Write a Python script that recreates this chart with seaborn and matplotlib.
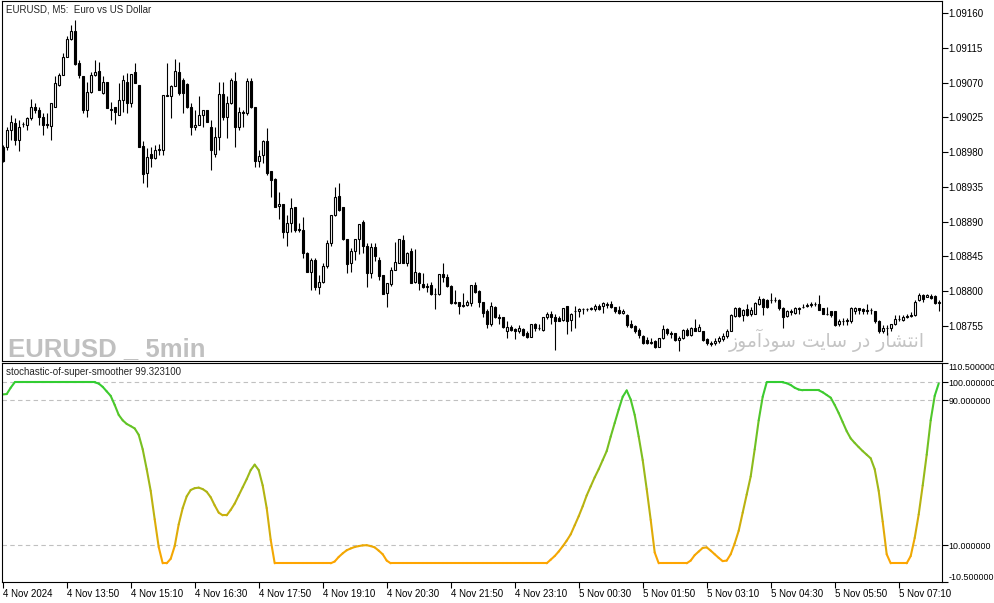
import numpy as np
import pandas as pd
import matplotlib
matplotlib.use('Agg')
import matplotlib.pyplot as plt
from matplotlib.collections import LineCollection
import seaborn as sns

# EURUSD M5 candles, 4 Nov 2024 12:30 -> 5 Nov 2024 08:00
open_ = [
    1.08987, 1.08987, 1.09009, 1.09018, 1.08996, 1.09016, 1.09015, 1.09024, 1.09038, 1.09035,
    1.09025, 1.09016, 1.09014, 1.09038, 1.09067, 1.09080, 1.09103, 1.09126, 1.09137, 1.09095,
    1.09079, 1.09035, 1.09058, 1.09080, 1.09085, 1.09057, 1.09071, 1.09036, 1.09038, 1.09028,
    1.09047, 1.09071, 1.09043, 1.09084, 1.09067, 1.08988, 1.08953, 1.08978, 1.08973, 1.08983,
    1.08983, 1.09053, 1.09052, 1.09066, 1.09084, 1.09073, 1.09068, 1.09039, 1.09012, 1.09015,
    1.09028, 1.09035, 1.09013, 1.08978, 1.09000, 1.09055, 1.09026, 1.09043, 1.09072, 1.09013,
    1.09032, 1.09030, 1.09072, 1.09038, 1.08968, 1.08976, 1.08994, 1.08955, 1.08945, 1.08910,
    1.08913, 1.08876, 1.08888, 1.08909, 1.08879, 1.08879, 1.08850, 1.08825, 1.08840, 1.08805,
    1.08812, 1.08833, 1.08862, 1.08899, 1.08923, 1.08909, 1.08868, 1.08836, 1.08852, 1.08868,
    1.08889, 1.08859, 1.08824, 1.08857, 1.08840, 1.08821, 1.08798, 1.08809, 1.08827, 1.08837,
    1.08866, 1.08836, 1.08852, 1.08812, 1.08824, 1.08809, 1.08806, 1.08808, 1.08796, 1.08796,
    1.08822, 1.08818, 1.08807, 1.08785, 1.08786, 1.08781, 1.08782, 1.08785, 1.08808, 1.08800,
    1.08786, 1.08774, 1.08757, 1.08779, 1.08767, 1.08766, 1.08748, 1.08754, 1.08751, 1.08749,
    1.08751, 1.08746, 1.08741, 1.08758, 1.08752, 1.08750, 1.08766, 1.08771, 1.08767, 1.08765,
    1.08763, 1.08781, 1.08763, 1.08774, 1.08774, 1.08777, 1.08777, 1.08777, 1.08777, 1.08781,
    1.08781, 1.08782, 1.08783, 1.08779, 1.08776, 1.08772, 1.08769, 1.08758, 1.08755, 1.08750,
    1.08742, 1.08737, 1.08733, 1.08735, 1.08728, 1.08739, 1.08751, 1.08746, 1.08746, 1.08737,
    1.08739, 1.08750, 1.08743, 1.08753, 1.08749, 1.08748, 1.08738, 1.08733, 1.08733, 1.08735,
    1.08738, 1.08742, 1.08749, 1.08768, 1.08778, 1.08769, 1.08777, 1.08771, 1.08771, 1.08783,
    1.08790, 1.08789, 1.08788, 1.08788, 1.08789, 1.08778, 1.08768, 1.08774, 1.08772, 1.08778,
    1.08779, 1.08781, 1.08782, 1.08783, 1.08784, 1.08778, 1.08771, 1.08774, 1.08774, 1.08758,
    1.08761, 1.08762, 1.08761, 1.08775, 1.08778, 1.08777, 1.08774, 1.08776, 1.08774, 1.08762,
    1.08748, 1.08752, 1.08752, 1.08758, 1.08764, 1.08763, 1.08767, 1.08768, 1.08769, 1.08789,
    1.08795, 1.08793, 1.08794, 1.08794, 1.08785,
]
high = [
    1.08989, 1.09013, 1.09028, 1.09024, 1.09022, 1.09019, 1.09026, 1.09049, 1.09043, 1.09039,
    1.09030, 1.09030, 1.09043, 1.09079, 1.09082, 1.09108, 1.09130, 1.09144, 1.09151, 1.09099,
    1.09079, 1.09071, 1.09084, 1.09099, 1.09097, 1.09078, 1.09071, 1.09045, 1.09039, 1.09069,
    1.09080, 1.09082, 1.09081, 1.09095, 1.09067, 1.08994, 1.08985, 1.08987, 1.08989, 1.08991,
    1.09054, 1.09095, 1.09067, 1.09100, 1.09097, 1.09076, 1.09069, 1.09043, 1.09035, 1.09052,
    1.09035, 1.09035, 1.09021, 1.09013, 1.09071, 1.09071, 1.09052, 1.09076, 1.09084, 1.09039,
    1.09035, 1.09076, 1.09076, 1.09039, 1.08983, 1.08996, 1.09011, 1.08956, 1.08947, 1.08929,
    1.08913, 1.08899, 1.08921, 1.08909, 1.08888, 1.08896, 1.08851, 1.08843, 1.08843, 1.08821,
    1.08836, 1.08866, 1.08899, 1.08935, 1.08940, 1.08909, 1.08868, 1.08856, 1.08868, 1.08887,
    1.08892, 1.08863, 1.08863, 1.08862, 1.08844, 1.08821, 1.08810, 1.08831, 1.08864, 1.08868,
    1.08873, 1.08851, 1.08856, 1.08855, 1.08825, 1.08823, 1.08810, 1.08812, 1.08804, 1.08822,
    1.08836, 1.08822, 1.08808, 1.08802, 1.08786, 1.08798, 1.08789, 1.08808, 1.08812, 1.08802,
    1.08786, 1.08777, 1.08786, 1.08781, 1.08771, 1.08767, 1.08761, 1.08756, 1.08752, 1.08756,
    1.08752, 1.08748, 1.08758, 1.08759, 1.08758, 1.08767, 1.08773, 1.08774, 1.08771, 1.08768,
    1.08778, 1.08781, 1.08772, 1.08781, 1.08778, 1.08778, 1.08778, 1.08779, 1.08783, 1.08784,
    1.08786, 1.08786, 1.08787, 1.08780, 1.08781, 1.08777, 1.08771, 1.08763, 1.08756, 1.08752,
    1.08743, 1.08741, 1.08740, 1.08737, 1.08740, 1.08756, 1.08752, 1.08748, 1.08746, 1.08742,
    1.08751, 1.08752, 1.08754, 1.08764, 1.08758, 1.08749, 1.08739, 1.08736, 1.08739, 1.08742,
    1.08746, 1.08751, 1.08771, 1.08780, 1.08780, 1.08777, 1.08784, 1.08779, 1.08786, 1.08794,
    1.08791, 1.08790, 1.08798, 1.08793, 1.08790, 1.08779, 1.08776, 1.08777, 1.08780, 1.08779,
    1.08784, 1.08785, 1.08786, 1.08786, 1.08795, 1.08778, 1.08779, 1.08774, 1.08774, 1.08764,
    1.08765, 1.08765, 1.08779, 1.08780, 1.08778, 1.08778, 1.08783, 1.08778, 1.08775, 1.08763,
    1.08756, 1.08756, 1.08758, 1.08769, 1.08769, 1.08769, 1.08771, 1.08773, 1.08788, 1.08798,
    1.08797, 1.08796, 1.08796, 1.08795, 1.08788,
]
low = [
    1.08967, 1.08983, 1.08996, 1.08989, 1.08981, 1.09013, 1.09009, 1.09022, 1.09030, 1.09015,
    1.09002, 1.09011, 1.08996, 1.09038, 1.09066, 1.09080, 1.09103, 1.09125, 1.09093, 1.09076,
    1.09030, 1.09026, 1.09056, 1.09078, 1.09060, 1.09055, 1.09037, 1.09022, 1.09016, 1.09028,
    1.09032, 1.09030, 1.09039, 1.09069, 1.08987, 1.08940, 1.08935, 1.08961, 1.08971, 1.08976,
    1.08976, 1.09052, 1.09024, 1.09065, 1.09054, 1.09030, 1.09037, 1.09002, 1.09009, 1.09015,
    1.09013, 1.09019, 1.08957, 1.08974, 1.08983, 1.09022, 1.08998, 1.09042, 1.08987, 1.09009,
    1.09013, 1.09028, 1.09037, 1.08961, 1.08961, 1.08966, 1.08950, 1.08922, 1.08909, 1.08894,
    1.08869, 1.08859, 1.08877, 1.08877, 1.08877, 1.08843, 1.08825, 1.08802, 1.08802, 1.08797,
    1.08810, 1.08830, 1.08858, 1.08897, 1.08904, 1.08866, 1.08824, 1.08825, 1.08840, 1.08848,
    1.08849, 1.08806, 1.08817, 1.08839, 1.08815, 1.08797, 1.08780, 1.08807, 1.08827, 1.08837,
    1.08836, 1.08832, 1.08811, 1.08810, 1.08802, 1.08804, 1.08799, 1.08795, 1.08777, 1.08795,
    1.08812, 1.08805, 1.08784, 1.08784, 1.08770, 1.08780, 1.08781, 1.08781, 1.08798, 1.08780,
    1.08766, 1.08753, 1.08755, 1.08765, 1.08758, 1.08752, 1.08740, 1.08748, 1.08738, 1.08746,
    1.08742, 1.08739, 1.08741, 1.08748, 1.08750, 1.08749, 1.08764, 1.08758, 1.08724, 1.08762,
    1.08762, 1.08744, 1.08748, 1.08752, 1.08767, 1.08771, 1.08774, 1.08776, 1.08774, 1.08776,
    1.08772, 1.08778, 1.08778, 1.08772, 1.08771, 1.08771, 1.08754, 1.08752, 1.08746, 1.08739,
    1.08732, 1.08732, 1.08732, 1.08727, 1.08728, 1.08738, 1.08743, 1.08740, 1.08736, 1.08723,
    1.08738, 1.08742, 1.08742, 1.08748, 1.08748, 1.08736, 1.08730, 1.08729, 1.08730, 1.08733,
    1.08735, 1.08740, 1.08748, 1.08767, 1.08767, 1.08762, 1.08768, 1.08768, 1.08771, 1.08782,
    1.08769, 1.08778, 1.08785, 1.08786, 1.08776, 1.08753, 1.08767, 1.08769, 1.08771, 1.08771,
    1.08778, 1.08779, 1.08780, 1.08781, 1.08776, 1.08771, 1.08769, 1.08767, 1.08755, 1.08755,
    1.08756, 1.08756, 1.08759, 1.08771, 1.08771, 1.08771, 1.08771, 1.08771, 1.08759, 1.08746,
    1.08746, 1.08743, 1.08749, 1.08756, 1.08761, 1.08762, 1.08765, 1.08767, 1.08768, 1.08787,
    1.08786, 1.08792, 1.08790, 1.08784, 1.08775,
]
close = [
    1.08968, 1.09009, 1.09019, 1.08996, 1.09013, 1.09017, 1.09024, 1.09039, 1.09035, 1.09025,
    1.09015, 1.09015, 1.09043, 1.09069, 1.09080, 1.09103, 1.09126, 1.09137, 1.09094, 1.09080,
    1.09035, 1.09058, 1.09080, 1.09084, 1.09061, 1.09071, 1.09037, 1.09035, 1.09032, 1.09047,
    1.09073, 1.09043, 1.09081, 1.09070, 1.08987, 1.08952, 1.08974, 1.08972, 1.08983, 1.08984,
    1.09054, 1.09054, 1.09066, 1.09085, 1.09057, 1.09057, 1.09038, 1.09012, 1.09015, 1.09028,
    1.09035, 1.09019, 1.08983, 1.09000, 1.09055, 1.09026, 1.09043, 1.09073, 1.09012, 1.09032,
    1.09030, 1.09072, 1.09038, 1.08969, 1.08975, 1.08994, 1.08953, 1.08944, 1.08909, 1.08913,
    1.08876, 1.08888, 1.08908, 1.08879, 1.08881, 1.08850, 1.08825, 1.08840, 1.08805, 1.08812,
    1.08833, 1.08862, 1.08899, 1.08922, 1.08905, 1.08867, 1.08835, 1.08852, 1.08868, 1.08887,
    1.08858, 1.08823, 1.08857, 1.08845, 1.08820, 1.08797, 1.08810, 1.08827, 1.08838, 1.08868,
    1.08836, 1.08850, 1.08811, 1.08825, 1.08811, 1.08805, 1.08807, 1.08796, 1.08797, 1.08822,
    1.08818, 1.08807, 1.08785, 1.08786, 1.08781, 1.08782, 1.08786, 1.08808, 1.08799, 1.08786,
    1.08772, 1.08757, 1.08781, 1.08766, 1.08765, 1.08754, 1.08754, 1.08750, 1.08748, 1.08753,
    1.08743, 1.08741, 1.08758, 1.08752, 1.08753, 1.08766, 1.08771, 1.08766, 1.08761, 1.08762,
    1.08778, 1.08762, 1.08771, 1.08775, 1.08777, 1.08777, 1.08777, 1.08778, 1.08781, 1.08777,
    1.08785, 1.08783, 1.08779, 1.08775, 1.08772, 1.08774, 1.08756, 1.08754, 1.08748, 1.08743,
    1.08733, 1.08733, 1.08734, 1.08728, 1.08740, 1.08751, 1.08746, 1.08745, 1.08737, 1.08739,
    1.08750, 1.08743, 1.08753, 1.08749, 1.08754, 1.08737, 1.08733, 1.08732, 1.08735, 1.08739,
    1.08742, 1.08749, 1.08769, 1.08778, 1.08768, 1.08776, 1.08769, 1.08776, 1.08785, 1.08790,
    1.08779, 1.08779, 1.08788, 1.08789, 1.08778, 1.08767, 1.08774, 1.08773, 1.08778, 1.08777,
    1.08780, 1.08782, 1.08783, 1.08783, 1.08776, 1.08771, 1.08771, 1.08769, 1.08756, 1.08761,
    1.08762, 1.08763, 1.08778, 1.08778, 1.08776, 1.08774, 1.08776, 1.08776, 1.08761, 1.08748,
    1.08752, 1.08753, 1.08758, 1.08764, 1.08764, 1.08767, 1.08768, 1.08769, 1.08786, 1.08795,
    1.08790, 1.08795, 1.08791, 1.08785, 1.08786,
]
# stochastic-of-super-smoother, one value per bar
stoch = [
    93.3, 93.5, 97, 100, 100, 100, 100, 100, 100, 100,
    100, 100, 100, 100, 100, 100, 100, 100, 100, 100,
    100, 100, 100, 100, 99.3, 97.5, 95, 92.5, 87.5, 82,
    79, 77, 75.8, 74.5, 71, 63, 52, 40, 24.3, 9,
    0, 0, 2.5, 9.5, 21.5, 30.5, 37, 40.5, 41.5, 41.8,
    41, 39.5, 36.5, 32, 28, 26.5, 26.5, 29.5, 33, 37.5,
    42, 46.5, 51.5, 54.5, 51.5, 43, 30.5, 13, 0, 0,
    0, 0, 0, 0, 0, 0, 0, 0, 0, 0,
    0, 0, 0, 1, 3.5, 5.5, 7.2, 8.2, 9, 9.5,
    9.9, 10, 9.5, 8.8, 7, 5, 1.5, 0, 0, 0,
    0, 0, 0, 0, 0, 0, 0, 0, 0, 0,
    0, 0, 0, 0, 0, 0, 0, 0, 0, 0,
    0, 0, 0, 0, 0, 0, 0, 0, 0, 0,
    0, 0, 0, 0, 0, 0, 0, 2, 4, 6.5,
    9.4, 12.5, 16, 21, 26, 31.5, 37.5, 42.5, 47.5, 52,
    57, 62, 70, 77.5, 85, 92, 95.5, 90.5, 82, 70,
    57, 41, 24, 6, 0, 0, 0, 0, 0, 0,
    0, 0, 1.5, 4.5, 6.5, 8.5, 8.8, 7, 5, 3,
    1.2, 1.5, 5, 11, 18, 28, 38, 48, 63, 79,
    92, 100, 100, 100, 100, 100, 99.5, 98.5, 97, 96,
    95.6, 95.6, 95.6, 95.6, 95.6, 94.5, 93, 91.5, 87.5, 83,
    78, 73, 69, 66.5, 64.2, 62, 60, 58, 52, 40,
    23, 5, 0, 0, 0, 0, 0, 4, 14, 27,
    43, 60, 79, 92.5, 99.3231,
]
time_labels = ['4 Nov 2024', '4 Nov 13:50', '4 Nov 15:10', '4 Nov 16:30', '4 Nov 17:50',
               '4 Nov 19:10', '4 Nov 20:30', '4 Nov 21:50', '4 Nov 23:10', '5 Nov 00:30',
               '5 Nov 01:50', '5 Nov 03:10', '5 Nov 04:30', '5 Nov 05:50', '5 Nov 07:10']
price_ticks = [1.09160, 1.09115, 1.09070, 1.09025, 1.08980, 1.08935, 1.08890, 1.08845, 1.08800, 1.08755]
stoch_ticks = [-10.5, 10, 90, 100, 110.5]
stoch_levels = [10, 90, 100]

df = pd.DataFrame({'open': open_, 'high': high, 'low': low, 'close': close, 'stoch': stoch})
df['bar'] = np.arange(len(df))

sns.set_theme(style='white')
plt.rcParams['font.family'] = ['Liberation Sans', 'DejaVu Sans']

W, H = 994, 603
fig = plt.figure(figsize=(W / 100, H / 100), dpi=100)


def box(x0, y0, x1, y1):
    # pixel rectangle -> figure fraction
    return [x0 / W, 1 - y1 / H, (x1 - x0) / W, (y1 - y0) / H]


ax = fig.add_axes(box(2.3, 0.5, 941.7, 361))
ax2 = fig.add_axes(box(2.3, 363.3, 941.7, 582.3))

# candles
up = df['close'] >= df['open']
ax.vlines(df['bar'], df['low'], df['high'], color='black', lw=0.8, zorder=2)
ax.bar(df['bar'], (df['close'] - df['open']).abs(), bottom=df[['open', 'close']].min(axis=1),
       width=0.5, color=np.where(up, 'white', 'black'), edgecolor='black', linewidth=0.8, zorder=3)

# indicator line, coloured orange (low) -> green (high)
cmap = sns.blend_palette(['#FFA500', '#32CD32'], as_cmap=True)
pts = np.column_stack([df['bar'], df['stoch']])
segs = np.stack([pts[:-1], pts[1:]], axis=1)
lc = LineCollection(segs, cmap=cmap, norm=plt.Normalize(0, 100), linewidth=1.5, capstyle='round')
lc.set_array((df['stoch'].values[:-1] + df['stoch'].values[1:]) / 2)
ax2.add_collection(lc)
for lvl in stoch_levels:
    ax2.axhline(lvl, color='#c0c0c0', lw=0.8, ls=(0, (4, 3)), zorder=0)

for a in (ax, ax2):
    a.set_xlim(-0.1, 234.75)
    for s in a.spines.values():
        s.set_color('black')
        s.set_linewidth(0.8)
    a.tick_params(axis='y', left=False, right=True, labelleft=False, labelright=True,
                  direction='out', length=4, width=0.8, pad=0.8, labelsize=7, colors='black')

ax.set_ylim(1.087097, 1.091762)
ax.set_yticks(price_ticks, [f'{p:.5f}' for p in price_ticks])
ax.set_xticks([])

ax2.set_ylim(-10.5, 110.5)
ax2.set_yticks(stoch_ticks, [f'{v:.6f}' for v in stoch_ticks])
ax2.tick_params(axis='y', labelsize=6.4)
labs = ax2.get_yticklabels()
labs[0].set_va('bottom')
labs[-1].set_va('top')
ax2.set_xticks(np.arange(0, 225, 16), time_labels, ha='left')
ax2.tick_params(axis='x', bottom=True, direction='out', length=4, width=0.8, pad=0.5,
                labelsize=7, colors='black')

# texts
fig.text(5.5 / W, 1 - 10 / H, 'EURUSD, M5:  Euro vs US Dollar', fontsize=7, va='center')
fig.text(5.5 / W, 1 - 372.3 / H, 'stochastic-of-super-smoother 99.323100', fontsize=7, va='center')
ax.text(8 / W, 1 - 356 / H, 'EURUSD _ 5min', transform=fig.transFigure, fontsize=18.5,
        fontweight='bold', family=['Liberation Sans'], color='#c0c0c0', va='baseline', zorder=0.5)
# "انتشار در سایت سودآموز" written with presentation forms in visual order (matplotlib has no RTL shaping)
fa_text = ('\ufeaf\ufeee\ufee3\ufe81\ufea9\ufeee\ufeb3 \ufe96\ufbfe\ufe8e\ufeb3 '
           '\ufead\ufea9 \ufead\ufe8e\ufeb8\ufe98\ufee7\ufe8d')
ax.text(925 / W, 1 - 347 / H, fa_text, transform=fig.transFigure, fontsize=13.5,
        family=['DejaVu Sans'], color='#c4c4c4', ha='right', va='baseline', zorder=0.5)

fig.savefig('out.png', dpi=100)
